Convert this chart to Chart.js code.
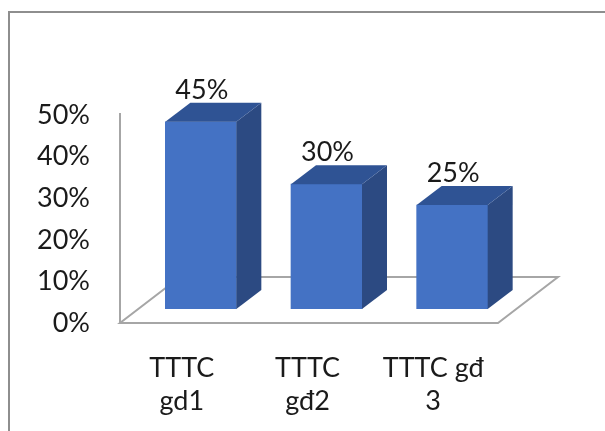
<!DOCTYPE html>
<html>
<head>
<meta charset="utf-8">
<script src="https://cdn.jsdelivr.net/npm/chart.js@4"></script>
<style>
  html, body { margin: 0; padding: 0; background: #fff; }
  #wrap { position: relative; width: 605px; height: 431px; }
</style>
</head>
<body>
<div id="wrap"><canvas id="chart"></canvas></div>
<script>
"use strict";

// Données
const CATEGORIES = [["TTTC", "gd1"], ["TTTC", "gđ2"], ["TTTC gđ", "3"]];
const VALUES     = [45, 30, 25];
const Y_TICKS    = [0, 10, 20, 30, 40, 50];

const COLORS = {
  front: "#4472C4",
  side:  "#2C4A82",
  top:   "#2F5394",
  floor: "#A6A6A6",
  frame: "#8E8E8E",
  text:  "#1A1A1A",
};

const FONT = "Lato, 'Open Sans', sans-serif";
const FONT_SIZE = 27;

// profondeur des barres (effet 3D)
const DEPTH_X = 25, DEPTH_Y = 19;

// Cadre, sol et mur (dessinés avant les barres)
const floorPlugin = {
  id: "floor3d",
  beforeDatasetsDraw(chart) {
    const { ctx, chartArea, scales } = chart;
    const y0 = scales.y.getPixelForValue(0);
    const yTop = scales.y.getPixelForValue(50);
    ctx.save();
    // cadre extérieur
    ctx.strokeStyle = COLORS.frame;
    ctx.lineWidth = 2;
    ctx.beginPath();
    ctx.moveTo(9, 440);
    ctx.lineTo(9, 12);
    ctx.lineTo(620, 12);
    ctx.stroke();

    // sol
    const fl = chartArea.left - 18, fr = chartArea.right - 17;
    const fy = y0 + 14, by = y0 - 32;
    ctx.strokeStyle = COLORS.floor;
    ctx.lineWidth = 2;
    ctx.beginPath();
    ctx.moveTo(fl, fy);
    ctx.lineTo(fr, fy);
    ctx.lineTo(fr + 60, by);
    ctx.lineTo(fl + 60, by);
    ctx.closePath();
    ctx.stroke();
    // arête du mur
    ctx.beginPath();
    ctx.moveTo(fl, fy);
    ctx.lineTo(fl, yTop + 12);
    ctx.stroke();
    ctx.restore();
  },
  afterDatasetsDraw(chart) {
    const { ctx } = chart;
    const meta = chart.getDatasetMeta(0);
    ctx.save();
    meta.data.forEach((bar, i) => {
      const half = bar.width / 2;
      const l = bar.x - half, r = bar.x + half;
      const t = bar.y, b = bar.base;
      // face latérale
      ctx.fillStyle = COLORS.side;
      ctx.beginPath();
      ctx.moveTo(r, t);
      ctx.lineTo(r + DEPTH_X, t - DEPTH_Y);
      ctx.lineTo(r + DEPTH_X, b - DEPTH_Y);
      ctx.lineTo(r, b);
      ctx.closePath();
      ctx.fill();
      // face supérieure
      ctx.fillStyle = COLORS.top;
      ctx.beginPath();
      ctx.moveTo(l, t);
      ctx.lineTo(l + DEPTH_X, t - DEPTH_Y);
      ctx.lineTo(r + DEPTH_X, t - DEPTH_Y);
      ctx.lineTo(r, t);
      ctx.closePath();
      ctx.fill();
      // étiquette de valeur
      ctx.fillStyle = COLORS.text;
      ctx.font = FONT_SIZE + "px " + FONT;
      ctx.textAlign = "center";
      ctx.textBaseline = "middle";
      ctx.fillText(VALUES[i] + "%", bar.x + 1, t - 32);
    });
    ctx.restore();
  },
};

new Chart(document.getElementById("chart"), {
  type: "bar",
  data: {
    labels: CATEGORIES,
    datasets: [{
      data: VALUES,
      backgroundColor: COLORS.front,
      borderWidth: 0,
      barThickness: 71,
    }],
  },
  options: {
    responsive: true,
    maintainAspectRatio: false,
    animation: false,
    layout: { padding: { left: 8, right: 90, top: 101, bottom: 0 } },
    plugins: {
      legend: { display: false },
      tooltip: { enabled: false },
    },
    scales: {
      x: {
        grid: { display: false, drawTicks: false },
        border: { display: false },
        afterFit: s => { s.height = 122; },
        ticks: {
          color: COLORS.text,
          font: { family: FONT, size: FONT_SIZE, lineHeight: 1.25 },
          padding: 42,
          labelOffset: -19,
          maxRotation: 0,
          autoSkip: false,
        },
      },
      y: {
        min: 0,
        max: 50,
        afterFit: s => { s.width = 130; },
        afterBuildTicks: s => { s.ticks = Y_TICKS.map(v => ({ value: v })); },
        grid: { display: false, drawTicks: false },
        border: { display: false },
        ticks: {
          color: COLORS.text,
          font: { family: FONT, size: FONT_SIZE },
          padding: 48,
          labelOffset: 14,
          callback: v => v + "%",
        },
      },
    },
  },
  plugins: [floorPlugin],
});
</script>
</body>
</html>
